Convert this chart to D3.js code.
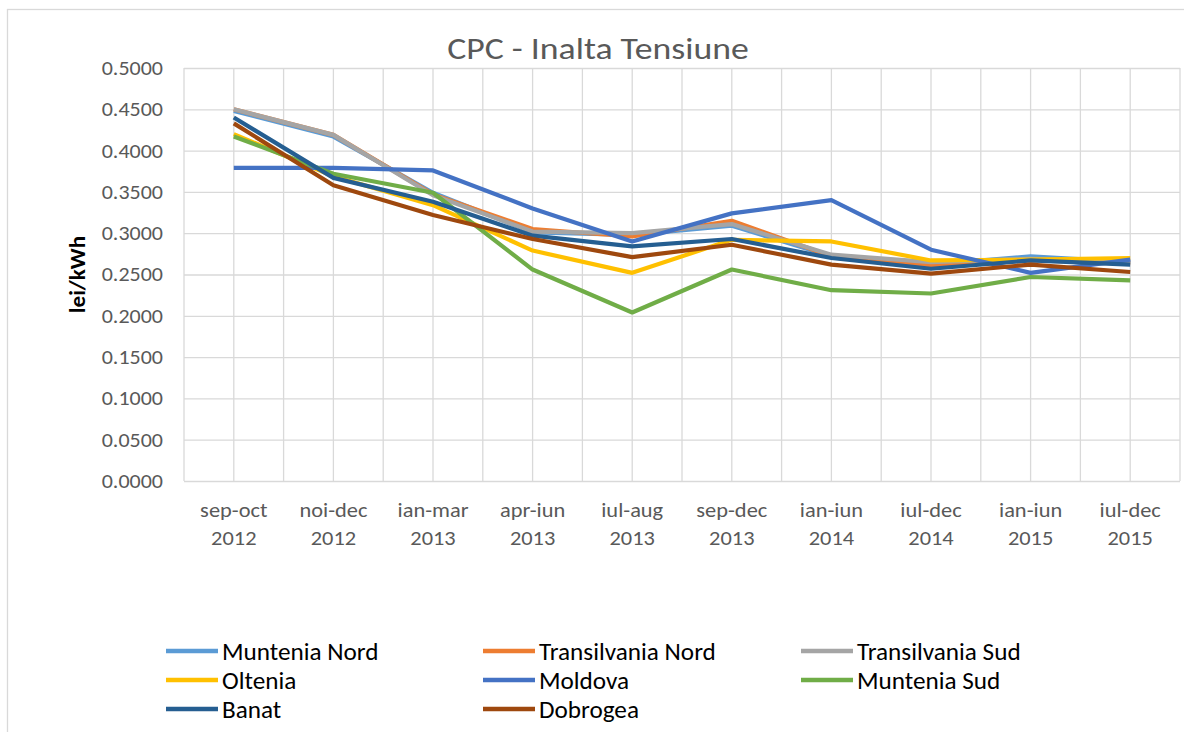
<!DOCTYPE html>
<html>
<head>
<meta charset="utf-8">
<script src="https://cdn.jsdelivr.net/npm/d3@7/dist/d3.min.js"></script>
<style>
  body { margin: 0; background: #fff; }
  svg { font-family: Calibri, Lato, sans-serif; }
  .grid line { stroke: #d9d9d9; stroke-width: 1.3; }
  .tick text { fill: #595959; }
</style>
</head>
<body>
<svg width="1184" height="732"></svg>
<script>
const categories = ['sep-oct 2012', 'noi-dec 2012', 'ian-mar 2013', 'apr-iun 2013', 'iul-aug 2013',
  'sep-dec 2013', 'ian-iun 2014', 'iul-dec 2014', 'ian-iun 2015', 'iul-dec 2015'];

const munteniaNord = [0.448, 0.417, 0.349, 0.301, 0.298, 0.309, 0.272, 0.262, 0.272, 0.265];
const transilvaniaNord = [0.450, 0.419, 0.347, 0.305, 0.296, 0.315, 0.272, 0.261, 0.267, 0.264];
const transilvaniaSud = [0.450, 0.419, 0.346, 0.302, 0.300, 0.311, 0.274, 0.265, 0.269, 0.266];
const oltenia = [0.420, 0.369, 0.334, 0.279, 0.252, 0.292, 0.290, 0.267, 0.268, 0.270];
const moldova = [0.379, 0.379, 0.376, 0.330, 0.290, 0.324, 0.340, 0.280, 0.252, 0.268];
const munteniaSud = [0.417, 0.372, 0.349, 0.256, 0.204, 0.256, 0.231, 0.227, 0.247, 0.243];
const banat = [0.440, 0.367, 0.338, 0.297, 0.284, 0.293, 0.270, 0.257, 0.267, 0.262];
const dobrogea = [0.433, 0.358, 0.322, 0.293, 0.271, 0.286, 0.262, 0.251, 0.262, 0.253];

const yTicks = [0, 0.05, 0.1, 0.15, 0.2, 0.25, 0.3, 0.35, 0.4, 0.45, 0.5];

const series = [
  { name: 'Muntenia Nord', values: munteniaNord, color: '#5B9BD5' },
  { name: 'Transilvania Nord', values: transilvaniaNord, color: '#ED7D31' },
  { name: 'Transilvania Sud', values: transilvaniaSud, color: '#A5A5A5' },
  { name: 'Oltenia', values: oltenia, color: '#FFC000' },
  { name: 'Moldova', values: moldova, color: '#4472C4' },
  { name: 'Muntenia Sud', values: munteniaSud, color: '#70AD47' },
  { name: 'Banat', values: banat, color: '#255E91' },
  { name: 'Dobrogea', values: dobrogea, color: '#9E480E' }
];

const svg = d3.select('svg');

// the source picture is stretched sideways a bit, so widen text glyphs
const stretch = (sel, k) => sel.each(function() {
  const w = this.getComputedTextLength();
  d3.select(this).attr('textLength', w * k).attr('lengthAdjust', 'spacingAndGlyphs');
});

// chart frame
svg.append('rect')
  .attr('x', 7.5).attr('y', 9.5)
  .attr('width', 1190).attr('height', 740)
  .attr('fill', 'none').attr('stroke', '#d9d9d9').attr('stroke-width', 1.3);

const plotLeft = 184, plotRight = 1180, plotTop = 68, plotBottom = 481;

const xScale = d3.scaleBand()
  .domain(categories)
  .range([plotLeft, plotRight]);

const yScale = d3.scaleLinear()
  .domain([0, 0.5])
  .range([plotBottom, plotTop]);

const xMid = c => xScale(c) + xScale.bandwidth() / 2;

// vertical gridlines: band edges and centres
const vLines = [];
categories.forEach(c => { vLines.push(xScale(c)); vLines.push(xMid(c)); });
vLines.push(plotRight);

svg.append('g').attr('class', 'grid')
  .selectAll('line').data(vLines)
  .enter().append('line')
    .attr('x1', d => d).attr('x2', d => d)
    .attr('y1', plotTop).attr('y2', plotBottom);

const yAxis = d3.axisLeft(yScale)
  .tickValues(yTicks)
  .tickFormat(d3.format('.4f'))
  .tickSize(-(plotRight - plotLeft))
  .tickPadding(21);

const yAxisG = svg.append('g')
  .attr('class', 'grid')
  .attr('transform', `translate(${plotLeft},0)`)
  .call(yAxis);
yAxisG.select('.domain').remove();
yAxisG.selectAll('text')
  .attr('font-size', 20)
  .attr('font-family', 'Calibri, Lato, sans-serif')
  .call(stretch, 1.1);

// x labels (two lines)
const xLab = svg.append('g');
categories.forEach(c => {
  const parts = c.split(' ');
  const t = xLab.append('g')
    .attr('text-anchor', 'middle')
    .attr('fill', '#595959')
    .attr('font-size', 20);
  t.append('text').attr('x', xMid(c)).attr('y', 517).text(parts[0]);
  t.append('text').attr('x', xMid(c)).attr('y', 545).text(parts[1]);
});
xLab.selectAll('text').call(stretch, 1.12);

// y axis title
svg.append('text')
  .attr('transform', `translate(85, ${(plotTop + plotBottom) / 2}) rotate(-90)`)
  .attr('text-anchor', 'middle')
  .attr('font-size', 22)
  .attr('font-weight', 'bold')
  .attr('fill', '#000')
  .text('lei/kWh')
  .call(stretch, 1.05);

// title
svg.append('text')
  .attr('x', 598).attr('y', 59)
  .attr('text-anchor', 'middle')
  .attr('font-size', 30)
  .attr('fill', '#595959')
  .text('CPC - Inalta Tensiune')
  .call(stretch, 1.19);

const line = d3.line()
  .x((d, i) => xMid(categories[i]))
  .y(d => yScale(d));

svg.append('g').selectAll('path').data(series)
  .enter().append('path')
    .attr('d', d => line(d.values))
    .attr('fill', 'none')
    .attr('stroke', d => d.color)
    .attr('stroke-width', 4.2)
    .attr('stroke-linejoin', 'round');

// legend
const legend = svg.append('g');
const colX = [166, 483, 801];
const rowY = [651, 680, 709];
series.forEach((s, i) => {
  const x = colX[i % 3], y = rowY[Math.floor(i / 3)];
  legend.append('line')
    .attr('x1', x).attr('x2', x + 52)
    .attr('y1', y).attr('y2', y)
    .attr('stroke', s.color).attr('stroke-width', 4.5);
  legend.append('text')
    .attr('x', x + 56).attr('y', y + 9)
    .attr('font-size', 24)
    .attr('fill', '#000')
    .text(s.name);
});
legend.selectAll('text').call(stretch, 1.05);
</script>
</body>
</html>
